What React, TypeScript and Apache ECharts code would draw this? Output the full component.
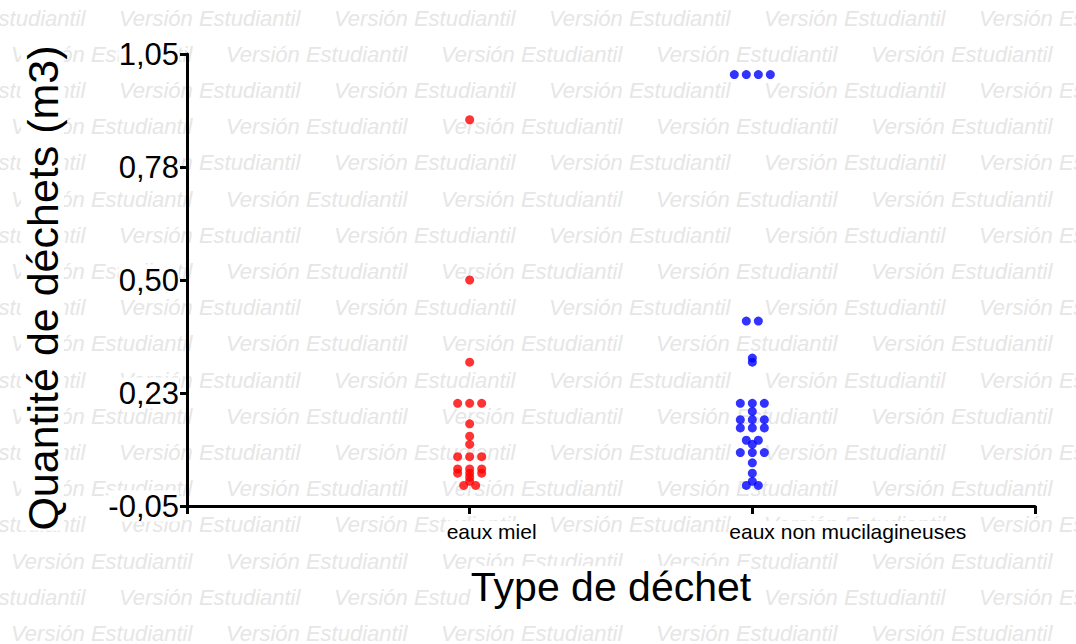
import React, { useEffect, useRef } from 'react';
import * as echarts from 'echarts';

const categories = ['eaux miel', 'eaux non mucilagineuses'];
const yTicks = [-0.05, 0.225, 0.5, 0.775, 1.05];
const yTickLabels = ['-0,05', '0,23', '0,50', '0,78', '1,05'];
const xTitle = 'Type de déchet';
const yTitle = 'Quantité de déchets (m3)';
const watermarkText = 'Versión Estudiantil';

// readings grouped in rows of (nearly) equal values, as Prism spreads them side by side
const mielRows: number[][] = [
  [0.89], [0.5], [0.3], [0.2, 0.2, 0.2], [0.15], [0.12], [0.1],
  [0.07, 0.07, 0.07], [0.04, 0.04, 0.04], [0.03, 0.03, 0.03], [0.02], [0.01], [0.0, 0.0],
];
const nonMucRows: number[][] = [
  [1.0, 1.0, 1.0, 1.0], [0.4, 0.4], [0.31], [0.3], [0.2, 0.2, 0.2], [0.18],
  [0.16, 0.16, 0.16], [0.14, 0.14, 0.14], [0.11, 0.11], [0.1], [0.08, 0.08, 0.08],
  [0.055], [0.03], [0.01], [0.0, 0.0],
];

const SPREAD = 0.0425; // horizontal spacing between side-by-side dots, in x units

function toPoints(rows: number[][], xCenter: number) {
  const pts: number[][] = [];
  rows.forEach((row) => {
    row.forEach((v, i) => {
      pts.push([xCenter + (i - (row.length - 1) / 2) * SPREAD, v]);
    });
  });
  return pts;
}

function buildWatermark() {
  const els: any[] = [];
  const period = 215;
  for (let r = 0; r < 18; r++) {
    const y = 18 + r * 36.2;
    const start = r % 2 === 0 ? -96 : 11;
    for (let k = 0; k < 6; k++) {
      els.push({
        type: 'text',
        z: -10,
        silent: true,
        x: start + k * period,
        y,
        style: {
          text: watermarkText,
          font: 'italic 22px "Liberation Sans"',
          fill: '#e6e6e6',
          align: 'left',
          verticalAlign: 'middle',
        },
      });
    }
  }
  return els;
}

export default function App() {
  const ref = useRef<HTMLDivElement>(null);
  useEffect(() => {
    if (!ref.current) return;
    const chart = echarts.init(ref.current, null, { renderer: 'svg' });
    const axisLineStyle = { color: '#000', width: 3 };
    const option: any = {
      animation: false,
      backgroundColor: '#fff',
      grid: { left: 187, right: 41, top: 54, bottom: 138 },
      xAxis: {
        type: 'value',
        min: 0,
        max: 3,
        interval: 1,
        axisLine: { show: true, onZero: false, lineStyle: axisLineStyle },
        axisTick: { show: true, length: 8, lineStyle: axisLineStyle },
        axisLabel: { show: false },
        splitLine: { show: false },
        name: xTitle,
        nameLocation: 'middle',
        nameGap: 60,
        nameTextStyle: {
          fontFamily: 'Liberation Sans',
          fontSize: 41,
          color: '#000',
          backgroundColor: '#fff',
        },
      },
      yAxis: {
        type: 'value',
        min: yTicks[0],
        max: yTicks[yTicks.length - 1],
        axisLine: { show: true, onZero: false, lineStyle: axisLineStyle },
        axisTick: { show: true, length: 7, lineStyle: axisLineStyle, customValues: yTicks },
        axisLabel: {
          customValues: yTicks,
          formatter: (v: number) => {
            let best = 0;
            yTicks.forEach((t, i) => {
              if (Math.abs(t - v) < Math.abs(yTicks[best] - v)) best = i;
            });
            return yTickLabels[best];
          },
          margin: 8,
          fontFamily: 'Liberation Sans',
          fontSize: 31,
          color: '#000',
          backgroundColor: '#fff',
        },
        splitLine: { show: false },
        name: yTitle,
        nameLocation: 'middle',
        nameGap: 123,
        nameTextStyle: {
          fontFamily: 'Liberation Sans',
          fontSize: 43,
          color: '#000',
          backgroundColor: '#fff',
          padding: [0, 16, 0, 0],
        },
      },
      series: [
        {
          type: 'scatter',
          symbol: 'circle',
          symbolSize: 9,
          itemStyle: { color: '#ff0000' },
          data: toPoints(mielRows, 1),
          z: 5,
        },
        {
          type: 'scatter',
          symbol: 'circle',
          symbolSize: 9,
          itemStyle: { color: '#0000ff' },
          data: toPoints(nonMucRows, 2),
          z: 5,
        },
      ],
    };
    chart.setOption(option);
    const py = chart.convertToPixel({ yAxisIndex: 0 }, yTicks[0]) as number;
    const labelEls = categories.map((c, i) => {
      const px = chart.convertToPixel({ xAxisIndex: 0 }, i + 1) as number;
      return {
        type: 'text',
        z: 10,
        x: px - 23,
        y: py + 15,
        style: {
          text: c,
          font: '21px "Liberation Sans"',
          fill: '#000',
          backgroundColor: '#fff',
          align: 'left',
          verticalAlign: 'top',
        },
      };
    });
    chart.setOption({ graphic: [...buildWatermark(), ...labelEls] });
    return () => chart.dispose();
  }, []);
  return (
    <div
      ref={ref}
      style={{ position: 'fixed', left: 0, top: 0, width: 1076, height: 644, background: '#fff' }}
    />
  );
}
